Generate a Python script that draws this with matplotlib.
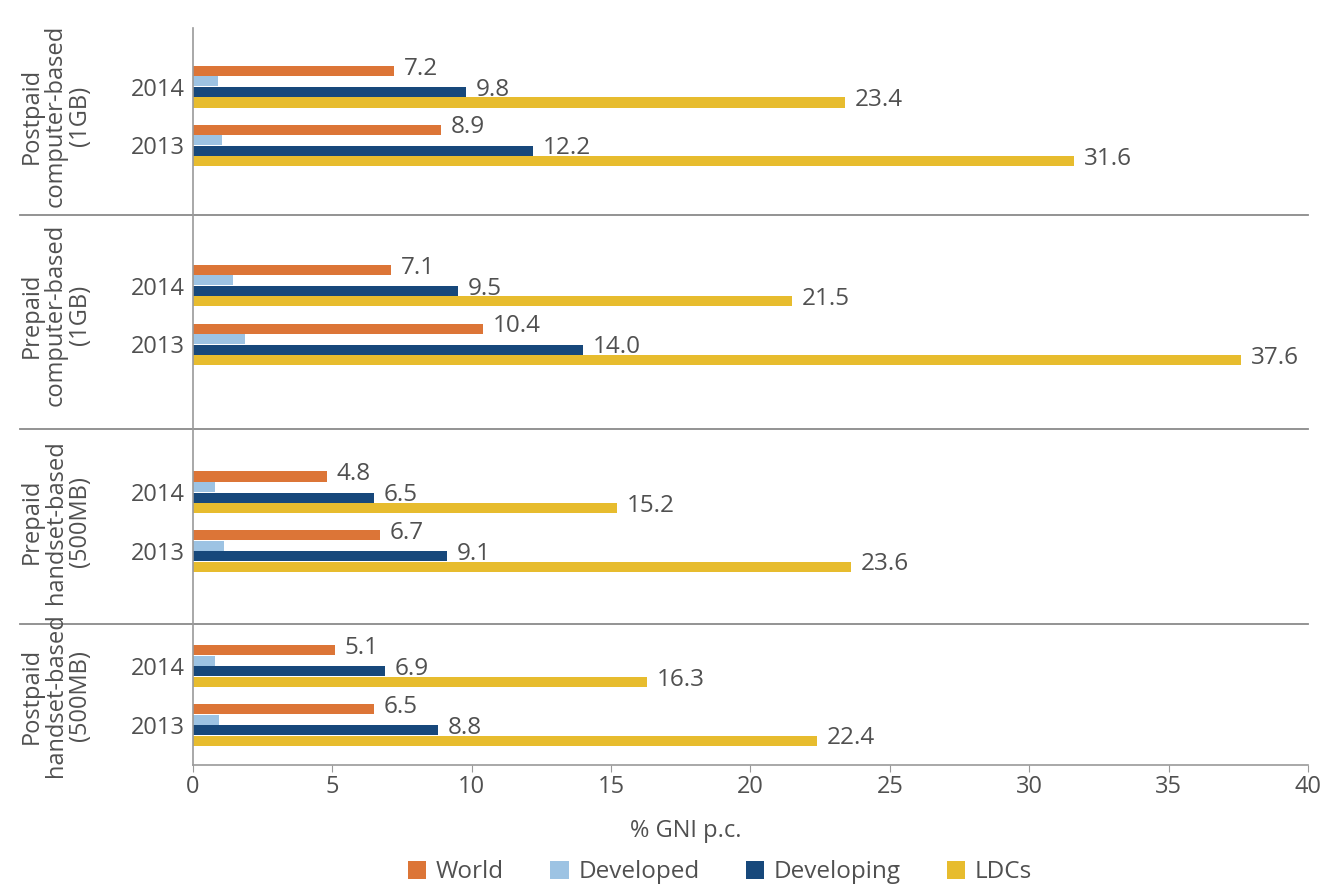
import numpy as np
import matplotlib.pyplot as plt
import matplotlib.transforms as mtransforms

plt.rcParams['font.family'] = ['Open Sans', 'DejaVu Sans']

groups = ['Postpaid\ncomputer-based\n(1GB)', 'Prepaid\ncomputer-based\n(1GB)',
          'Prepaid\nhandset-based\n(500MB)', 'Postpaid\nhandset-based\n(500MB)']
years = ['2014', '2013']
series = ['World', 'Developed', 'Developing', 'LDCs']
colors = ['#DC7537', '#9DC3E3', '#17487B', '#E7BC2E']

# values[group][year] -> one list per series
world = [[7.2, 8.9], [7.1, 10.4], [4.8, 6.7], [5.1, 6.5]]
developed = [[0.9, 1.05], [1.45, 1.85], [0.8, 1.1], [0.8, 0.95]]
developing = [[9.8, 12.2], [9.5, 14.0], [6.5, 9.1], [6.9, 8.8]]
ldcs = [[23.4, 31.6], [21.5, 37.6], [15.2, 23.6], [16.3, 22.4]]
data = [world, developed, developing, ldcs]
labelled = [True, False, True, True]

fig = plt.figure(figsize=(13.41, 8.92), dpi=100)
ax = fig.add_axes([0.1439, 0.1424, 0.8315, 0.8262])

text_col = '#505050'
line_col = '#9a9a9a'
group_pos = [0.0, 1.03, 2.1, 3.0]
bar_h = 0.052
bar_step = 0.0545
year_off = 0.152

ytick_pos = []
ytick_lab = []
for g in range(len(groups)):
    for y, yr in enumerate(years):
        yc = group_pos[g] + (-year_off if y == 0 else year_off)
        ytick_pos.append(yc)
        ytick_lab.append(yr)
        for s in range(len(series)):
            ypos = yc + (s - 1.5) * bar_step
            val = data[s][g][y]
            ax.barh(ypos, val, height=bar_h, color=colors[s],
                    label=series[s] if (g == 0 and y == 0) else None)
            if labelled[s]:
                ax.text(val + 0.35, ypos - 0.012, '{:.1f}'.format(val), va='center',
                        ha='left', fontsize=17.5, color=text_col)

ax.set_xlim(0, 40)
ax.set_ylim(3.36, -0.456)
ax.set_xticks(np.arange(0, 41, 5))
ax.set_yticks(ytick_pos)
ax.set_yticklabels(ytick_lab)
ax.tick_params(axis='y', length=0, labelsize=17, labelcolor=text_col, pad=6)
ax.tick_params(axis='x', length=5, color=line_col, labelsize=17, labelcolor=text_col,
               pad=2)

for sp in ['top', 'right']:
    ax.spines[sp].set_visible(False)
for sp in ['left', 'bottom']:
    ax.spines[sp].set_color(line_col)
    ax.spines[sp].set_linewidth(1.2)

# separators between groups, running into the label area
trans = mtransforms.blended_transform_factory(ax.transAxes, ax.transData)
for sep in [0.51, 1.62, 2.63]:
    ax.plot([-0.155, 1.0], [sep, sep], color='#8a8a8a', lw=1.3,
            transform=trans, clip_on=False)

# group labels
for g, name in enumerate(groups):
    ax.text(-0.123, group_pos[g], name, transform=trans, rotation=90, ha='center',
            va='center', multialignment='center', fontsize=17, color=text_col,
            linespacing=1.02)

ax.set_xlabel('% GNI p.c.', fontsize=17, color=text_col)
ax.xaxis.set_label_coords(0.442, -0.073)

fig.legend(loc='center', bbox_to_anchor=(0.537, 0.022), ncol=4, frameon=False,
           fontsize=17.5, handlelength=0.75, handleheight=0.75, columnspacing=1.9,
           labelcolor=text_col, handletextpad=0.4)

plt.savefig('out.png')
